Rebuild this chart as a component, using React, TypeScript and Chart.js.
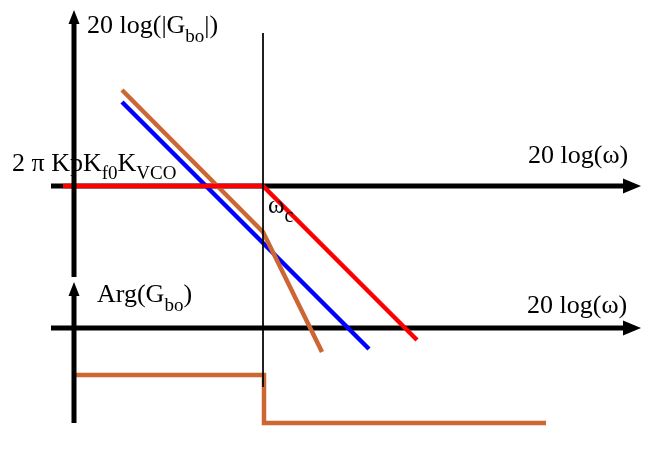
import React, { useEffect, useRef } from "react";
import { Chart, registerables } from "chart.js";

Chart.register(...registerables);

// Frame of the schematic (abstract units, y grows downward)
const X_RANGE = [0, 667];
const Y_RANGE = [0, 452];

// crossover frequency and levels
const omegaC = 263;
const gainLevel = 186;
const phaseZero = 328;

// axes
const magAxisH = [{ x: 51, y: gainLevel }, { x: 624, y: gainLevel }];
const phaseAxisH = [{ x: 51, y: phaseZero }, { x: 624, y: phaseZero }];
const magAxisV = [{ x: 74, y: 277 }, { x: 74, y: 22 }];
const phaseAxisV = [{ x: 74, y: 423 }, { x: 74, y: 294 }];
const wcLine = [{ x: omegaC, y: 33 }, { x: omegaC, y: 387 }];

// arrow tips
const arrowTips: { x: number; y: number; dir: "up" | "right" }[] = [
  { x: 74, y: 10, dir: "up" },
  { x: 74, y: 282, dir: "up" },
  { x: 641, y: gainLevel, dir: "right" },
  { x: 641, y: phaseZero, dir: "right" },
];

// curves
const redGain = [{ x: 63, y: gainLevel }, { x: omegaC, y: gainLevel }, { x: 417, y: 340 }];
const blueGain = [{ x: 122, y: 102 }, { x: 369, y: 349 }];
const brownGain = [{ x: 122, y: 90 }, { x: omegaC, y: 232 }, { x: 322, y: 352 }];
const brownPhase = [
  { x: 75, y: 375 },
  { x: 264, y: 375 },
  { x: 264, y: 423 },
  { x: 546, y: 423 },
];

type Part = { t: string; sub?: boolean };
const labels: { x: number; y: number; parts: Part[]; size: number; subSize: number; subDy: number }[] = [
  { x: 87, y: 33, size: 26, subSize: 19, subDy: 9, parts: [{ t: "20 log(|G" }, { t: "bo", sub: true }, { t: "|)" }] },
  { x: 12, y: 171, size: 26, subSize: 19, subDy: 8, parts: [{ t: "2 π KpK" }, { t: "f0", sub: true }, { t: "K" }, { t: "VCO", sub: true }] },
  { x: 528, y: 163, size: 26, subSize: 18, subDy: 8, parts: [{ t: "20 log(ω)" }] },
  { x: 527, y: 313, size: 26, subSize: 18, subDy: 8, parts: [{ t: "20 log(ω)" }] },
  { x: 97, y: 302, size: 26, subSize: 19, subDy: 9, parts: [{ t: "Arg(G" }, { t: "bo", sub: true }, { t: ")" }] },
  { x: 268, y: 213, size: 25, subSize: 20, subDy: 9, parts: [{ t: "ω" }, { t: "c", sub: true }] },
];

const BLACK = "#000000";
const RED = "#ff0000";
const BLUE = "#0000ff";
const BROWN = "#cc6633";
const FONT = '"Liberation Serif", "Times New Roman", serif';

const decor = {
  id: "decor",
  afterDatasetsDraw(chart: any) {
    const ctx = chart.ctx;
    const xs = chart.scales.x;
    const ys = chart.scales.y;
    ctx.save();
    ctx.fillStyle = BLACK;
    for (const a of arrowTips) {
      const tx = xs.getPixelForValue(a.x);
      const ty = ys.getPixelForValue(a.y);
      ctx.beginPath();
      if (a.dir === "up") {
        ctx.moveTo(tx, ty);
        ctx.lineTo(tx - 5.5, ty + 14);
        ctx.lineTo(tx + 5.5, ty + 14);
      } else {
        ctx.moveTo(tx, ty);
        ctx.lineTo(tx - 18, ty - 7.5);
        ctx.lineTo(tx - 18, ty + 7.5);
      }
      ctx.closePath();
      ctx.fill();
    }
    ctx.textBaseline = "alphabetic";
    ctx.textAlign = "left";
    for (const l of labels) {
      let px = xs.getPixelForValue(l.x);
      const py = ys.getPixelForValue(l.y);
      for (const p of l.parts) {
        ctx.font = `${p.sub ? l.subSize : l.size}px ${FONT}`;
        ctx.fillText(p.t, px, p.sub ? py + l.subDy : py);
        px += ctx.measureText(p.t).width;
      }
    }
    ctx.restore();
  },
};

function line(data: any[], color: string, width: number, order: number) {
  return {
    data,
    showLine: true,
    borderColor: color,
    borderWidth: width,
    pointRadius: 0,
    borderCapStyle: "butt",
    borderJoinStyle: "miter",
    tension: 0,
    fill: false,
    order,
  };
}

export default function App() {
  const ref = useRef<HTMLCanvasElement>(null);
  useEffect(() => {
    document.body.style.margin = "0";
    const chart = new Chart(ref.current as HTMLCanvasElement, {
      type: "scatter",
      data: {
        datasets: [
          line(wcLine, BLACK, 1, 0),
          line(magAxisV, BLACK, 5, 1),
          line(phaseAxisV, BLACK, 5, 1),
          line(redGain, RED, 4.5, 2),
          line(blueGain, BLUE, 4.5, 3),
          line(brownGain, BROWN, 4.5, 2),
          line(brownPhase, BROWN, 4.5, 2),
          line(magAxisH, BLACK, 5, 6),
          line(phaseAxisH, BLACK, 5, 6),
        ] as any,
      },
      options: {
        animation: false,
        responsive: false,
        maintainAspectRatio: false,
        layout: { padding: 0 },
        plugins: { legend: { display: false }, tooltip: { enabled: false }, title: { display: false } },
        scales: {
          x: { type: "linear", min: X_RANGE[0], max: X_RANGE[1], display: false },
          y: { type: "linear", min: Y_RANGE[0], max: Y_RANGE[1], reverse: true, display: false },
        },
      },
      plugins: [decor],
    });
    return () => chart.destroy();
  }, []);
  return <canvas ref={ref} width={667} height={452} style={{ display: "block" }} />;
}
